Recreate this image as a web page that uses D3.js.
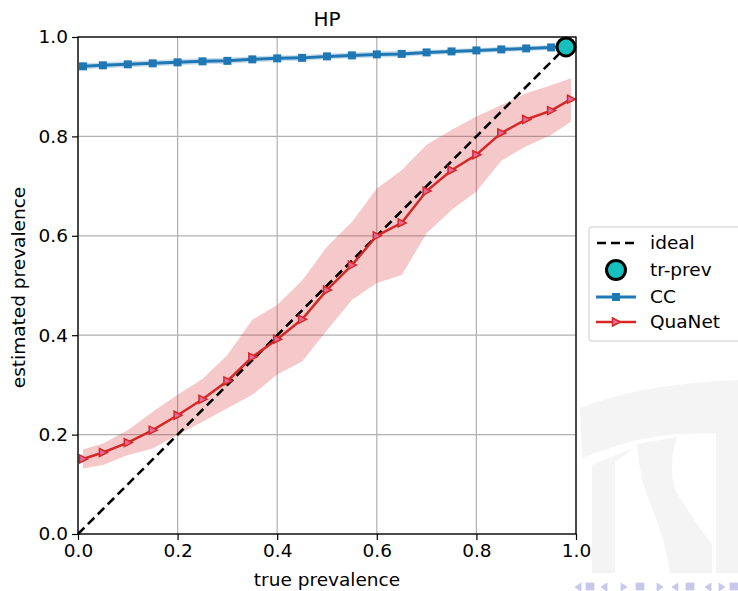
<!DOCTYPE html>
<html>
<head>
<meta charset="utf-8">
<script src="https://cdn.jsdelivr.net/npm/d3@7"></script>
<style>
  body { margin: 0; background: #fff; }
  #chart text { font-family: "DejaVu Sans", sans-serif; }
</style>
</head>
<body>
<div id="chart"></div>
<script>
// Data
const prevalence = [0.01, 0.05, 0.10, 0.15, 0.20, 0.25, 0.30, 0.35, 0.40, 0.45, 0.50,
                    0.55, 0.60, 0.65, 0.70, 0.75, 0.80, 0.85, 0.90, 0.95, 0.99]
const ccValues = [0.941, 0.943, 0.945, 0.947, 0.949, 0.951, 0.952, 0.955, 0.957, 0.958, 0.961,
                  0.963, 0.965, 0.966, 0.969, 0.971, 0.973, 0.975, 0.977, 0.979, 0.981]
const ccStd = [0.006, 0.006, 0.006, 0.006, 0.006, 0.006, 0.006, 0.006, 0.006, 0.006, 0.006,
               0.006, 0.006, 0.006, 0.005, 0.005, 0.005, 0.005, 0.005, 0.005, 0.005]
const quanetValues = [0.151, 0.164, 0.184, 0.209, 0.239, 0.271, 0.308, 0.356, 0.392, 0.432, 0.491,
                      0.541, 0.600, 0.626, 0.690, 0.732, 0.763, 0.807, 0.834, 0.852, 0.875]
const quanetHigh = [0.170, 0.182, 0.209, 0.246, 0.280, 0.312, 0.360, 0.431, 0.461, 0.510, 0.578,
                    0.628, 0.695, 0.732, 0.783, 0.813, 0.840, 0.863, 0.887, 0.903, 0.917]
const quanetLow = [0.132, 0.139, 0.159, 0.172, 0.199, 0.226, 0.253, 0.280, 0.321, 0.347, 0.410,
                   0.471, 0.505, 0.521, 0.605, 0.652, 0.689, 0.751, 0.780, 0.803, 0.830]
const idealLine = [0, 0.99]
const trainPrev = [0.98]
const tickValues = [0, 0.2, 0.4, 0.6, 0.8, 1.0]
const legendLabels = ["ideal", "tr-prev", "CC", "QuaNet"]

const width = 738
const height = 591
const plot = {left: 78, right: 576, top: 37, bottom: 534}
const fontSize = 18.5

const svg = d3.select("#chart")
              .append("svg")
              .attr("width", width)
              .attr("height", height)

// Faint logo watermark in the background (bottom right)
let mark = svg.append("g").attr("fill", "#f4f4f4")
mark.append("path").attr("d", "M580,408 Q640,384 738,380 L738,433 L677,434 Q650,437 633,441 Q605,449 582,458 Z")
mark.append("path").attr("d", "M592,465 Q612,456 634,448 L615,462 L615,573 L592,573 Z")
mark.append("path").attr("d", "M637,444 L677,437 Q668,462 675,490 Q692,518 712,545 L712,573 L670,573 Q665,540 653,510 Q639,480 637,444 Z")
mark.append("path").attr("d", "M716,433 L738,433 L738,573 L716,573 Z")

// Scales
const xScale = d3.scaleLinear().domain([0, 1]).range([plot.left, plot.right])
const yScale = d3.scaleLinear().domain([0, 1]).range([plot.bottom, plot.top])

// Grid lines
let grid = svg.append("g").attr("stroke", "#b0b0b0").attr("stroke-width", 1.2)
grid.selectAll(".vgrid")
    .data(tickValues)
    .enter()
    .append("line")
    .attr("x1", d => xScale(d)).attr("x2", d => xScale(d))
    .attr("y1", plot.top).attr("y2", plot.bottom)
grid.selectAll(".hgrid")
    .data(tickValues)
    .enter()
    .append("line")
    .attr("x1", plot.left).attr("x2", plot.right)
    .attr("y1", d => yScale(d)).attr("y2", d => yScale(d))

const rows = prevalence.map((p, i) => ({
    x: p, cc: ccValues[i], ccLo: ccValues[i] - ccStd[i], ccHi: ccValues[i] + ccStd[i],
    qn: quanetValues[i], qnLo: quanetLow[i], qnHi: quanetHigh[i]
}))

// Bands
const area = (lo, hi) => d3.area().x(d => xScale(d.x)).y0(d => yScale(d[lo])).y1(d => yScale(d[hi]))
svg.append("path").datum(rows).attr("d", area("qnLo", "qnHi"))
   .attr("fill", "#d62728").attr("fill-opacity", 0.25)
svg.append("path").datum(rows).attr("d", area("ccLo", "ccHi"))
   .attr("fill", "#1f77b4").attr("fill-opacity", 0.25)

// Ideal diagonal
svg.append("line")
   .attr("x1", xScale(idealLine[0])).attr("y1", yScale(idealLine[0]))
   .attr("x2", xScale(idealLine[1])).attr("y2", yScale(idealLine[1]))
   .attr("stroke", "#000").attr("stroke-width", 2.6).attr("stroke-dasharray", "9,5")

// CC line + square markers
const line = key => d3.line().x(d => xScale(d.x)).y(d => yScale(d[key]))
svg.append("path").datum(rows).attr("d", line("cc"))
   .attr("fill", "none").attr("stroke", "#1f77b4").attr("stroke-width", 3)
svg.selectAll(".ccDot")
   .data(rows)
   .enter()
   .append("rect")
   .attr("x", d => xScale(d.x) - 4).attr("y", d => yScale(d.cc) - 4)
   .attr("width", 8).attr("height", 8)
   .attr("fill", "#1f77b4")

// QuaNet line + triangle markers
const triangle = "M-3.5,-4 L4.5,0 L-3.5,4 Z"
svg.append("path").datum(rows).attr("d", line("qn"))
   .attr("fill", "none").attr("stroke", "#d62728").attr("stroke-width", 2.5)
svg.selectAll(".qnDot")
   .data(rows)
   .enter()
   .append("path")
   .attr("d", triangle)
   .attr("transform", d => `translate(${xScale(d.x)},${yScale(d.qn)})`)
   .attr("fill", "#e36a9a").attr("stroke", "#d62728").attr("stroke-width", 1.5)

// Training prevalence
svg.selectAll(".trPrev")
   .data(trainPrev)
   .enter()
   .append("circle")
   .attr("cx", d => xScale(d)).attr("cy", d => yScale(d)).attr("r", 9)
   .attr("fill", "#17bfbf").attr("stroke", "#000").attr("stroke-width", 3)

// Axes
const xAxis = d3.axisBottom(xScale).tickValues(tickValues).tickFormat(d3.format(".1f")).tickSize(6).tickPadding(4)
const yAxis = d3.axisLeft(yScale).tickValues(tickValues).tickFormat(d3.format(".1f")).tickSize(6).tickPadding(4)

svg.append("g")
   .attr("transform", "translate(0," + plot.bottom + ")")
   .call(xAxis)
   .call(g => g.select(".domain").remove())
svg.append("g")
   .attr("transform", "translate(" + plot.left + ",0)")
   .call(yAxis)
   .call(g => g.select(".domain").remove())
svg.selectAll(".tick text").attr("font-size", fontSize).attr("fill", "#000")
svg.selectAll(".tick line").attr("stroke", "#000").attr("stroke-width", 1.2)

// Frame
svg.append("rect")
   .attr("x", plot.left).attr("y", plot.top)
   .attr("width", plot.right - plot.left).attr("height", plot.bottom - plot.top)
   .attr("fill", "none").attr("stroke", "#000").attr("stroke-width", 1.3)

// Title and axis labels
svg.append("text")
   .attr("x", (plot.left + plot.right) / 2).attr("y", 26)
   .attr("text-anchor", "middle").attr("font-size", 20)
   .text("HP")
svg.append("text")
   .attr("x", (plot.left + plot.right) / 2).attr("y", 586)
   .attr("text-anchor", "middle").attr("font-size", fontSize)
   .text("true prevalence")
svg.append("text")
   .attr("transform", `translate(25,${(plot.top + plot.bottom) / 2 + 2}) rotate(-90)`)
   .attr("text-anchor", "middle").attr("font-size", fontSize)
   .text("estimated prevalence")

// Legend
let legend = svg.append("g").attr("transform", "translate(589,227)")
legend.append("rect")
      .attr("x", 0).attr("y", 0).attr("width", 160).attr("height", 114).attr("rx", 3)
      .attr("fill", "#fff").attr("fill-opacity", 0.8).attr("stroke", "#cccccc")
const rowY = [16, 43, 70, 95]
legend.append("line").attr("x1", 8).attr("x2", 46).attr("y1", rowY[0]).attr("y2", rowY[0])
      .attr("stroke", "#000").attr("stroke-width", 2.6).attr("stroke-dasharray", "9,5")
legend.append("circle").attr("cx", 27).attr("cy", rowY[1]).attr("r", 9.5)
      .attr("fill", "#17bfbf").attr("stroke", "#000").attr("stroke-width", 3)
legend.append("line").attr("x1", 7).attr("x2", 47).attr("y1", rowY[2]).attr("y2", rowY[2])
      .attr("stroke", "#1f77b4").attr("stroke-width", 3)
legend.append("rect").attr("x", 23).attr("y", rowY[2] - 4).attr("width", 8).attr("height", 8).attr("fill", "#1f77b4")
legend.append("line").attr("x1", 7).attr("x2", 47).attr("y1", rowY[3]).attr("y2", rowY[3])
      .attr("stroke", "#d62728").attr("stroke-width", 2.5)
legend.append("path").attr("d", triangle).attr("transform", `translate(27,${rowY[3]})`)
      .attr("fill", "#e36a9a").attr("stroke", "#d62728").attr("stroke-width", 1.5)
legend.selectAll(".lbl")
      .data(legendLabels)
      .enter()
      .append("text")
      .attr("x", 61).attr("y", (d, i) => rowY[i] + 6)
      .attr("font-size", fontSize)
      .text(d => d)

// Slide navigation symbols along the bottom edge
let nav = svg.append("g").attr("fill", "#c8c8ec").attr("stroke", "#c8c8ec")
const navX = [578, 590, 604, 624, 640, 660, 675, 690, 708, 722, 734]
nav.selectAll("path")
   .data(navX)
   .enter()
   .append("path")
   .attr("d", (d, i) => i % 3 == 1 ? `M${d - 4},583 h8 v7 h-8 Z` : (i % 2 == 0 ? `M${d + 3},583 L${d - 3},587 L${d + 3},591 Z` : `M${d - 3},583 L${d + 3},587 L${d - 3},591 Z`))
   .attr("stroke-width", 0.8)
</script>
</body>
</html>
